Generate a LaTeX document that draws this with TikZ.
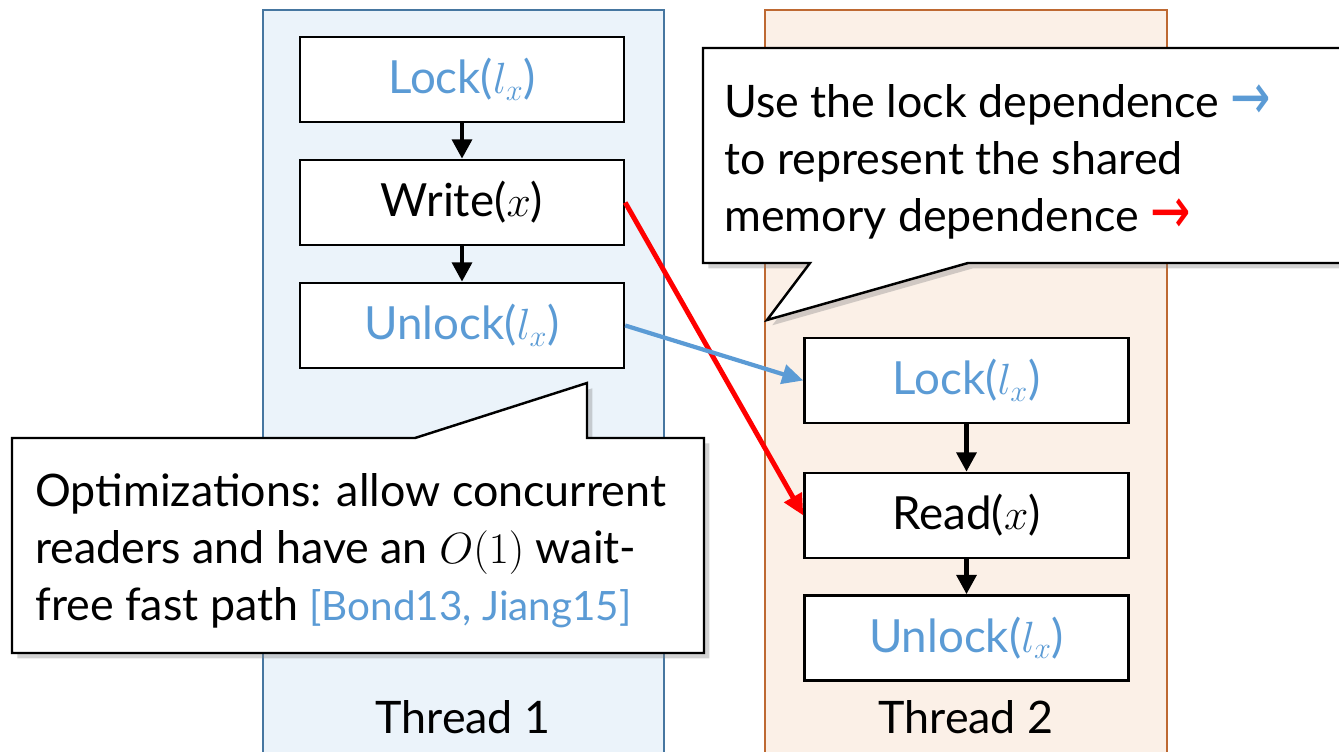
\documentclass[tikz,border=0pt]{standalone}
\usepackage[no-math]{fontspec}
\setmainfont{Lato}
\newfontfamily\arrowfont{DejaVu Sans}
\usetikzlibrary{arrows.meta}
\usetikzlibrary{shadows}
\definecolor{lockblue}{RGB}{91,155,213}
\definecolor{panelblue}{RGB}{235,243,250}
\definecolor{edgeblue}{RGB}{70,118,160}
\definecolor{panelorange}{RGB}{251,240,231}
\definecolor{edgeorange}{RGB}{190,105,50}
\newcommand{\deparrow}[1]{\textcolor{#1}{\raisebox{-1pt}{\scalebox{1.1}[1.5]{\arrowfont\fontsize{25}{30}\selectfont →}}}}

\begin{document}
\begin{tikzpicture}[x=0.02cm,y=-0.02cm,>={Triangle[length=11pt,width=11pt]},
	op/.style={draw,line width=1.4pt,fill=white,minimum width=6.48cm,minimum height=1.7cm,inner sep=0pt,font=\fontsize{26}{30}\selectfont},
	threadname/.style={inner sep=0pt,font=\fontsize{25.5}{30}\selectfont},
	notetext/.style={align=left,inner sep=0pt,font=\fontsize{25.5}{32.6}\selectfont},
	callout/.style={fill=white,draw=black,line width=1.4pt,drop shadow={shadow xshift=3pt,shadow yshift=-3pt,opacity=.35}}]
	\useasboundingbox (0,0) rectangle (1339,751);
	% the two threads
	\filldraw[fill=panelblue,draw=edgeblue,line width=1pt] (263,10) rectangle (664,770);
	\filldraw[fill=panelorange,draw=edgeorange,line width=1pt] (765,10) rectangle (1167,770);
	\node[threadname,anchor=base] (t1) at (463,733) {Thread 1};
	\node[threadname,anchor=base] (t2) at (966,733) {Thread 2};
	% operations
	\node[op] (l1) at (462,79.5) {\textcolor{lockblue}{Lock($l_x$)}};
	\node[op] (w1) at (462,202.5) {Write($x$)};
	\node[op] (u1) at (462,325.5) {\textcolor{lockblue}{Unlock($l_x$)}};
	\node[op] (l2) at (966.5,380.5) {\textcolor{lockblue}{Lock($l_x$)}};
	\node[op] (r2) at (966.5,515.5) {Read($x$)};
	\node[op] (u2) at (966.5,638) {\textcolor{lockblue}{Unlock($l_x$)}};
	\draw[->,line width=2.8pt] (l1) -- (w1);
	\draw[->,line width=2.8pt] (w1) -- (u1);
	\draw[->,line width=2.8pt] (l2) -- (r2);
	\draw[->,line width=2.8pt] (r2) -- (u2);
	\draw[-{Triangle[length=12pt,width=11pt]},line width=2.8pt,red] (w1.east) -- (r2.west);
	\draw[-{Triangle[length=12pt,width=11pt]},line width=2.4pt,lockblue] (u1.east) -- (l2.west);
	% callouts
	\coordinate (deptip) at (767,320);
	\filldraw[callout] (703,48) -- (1360,48) -- (1360,263) -- (968,263) -- (deptip) -- (810,263) -- (703,263) -- cycle;
	\node[notetext,anchor=north west] (deptext) at (724,84) {Use the lock dependence \deparrow{lockblue}\\to represent the shared\\memory dependence \deparrow{red}};
	\coordinate (opttip) at (587,383);
	\filldraw[callout] (12,438) -- (415,438) -- (opttip) -- (587,438) -- (704,438) -- (704,653) -- (12,653) -- cycle;
	\node[notetext,anchor=north west] (opttext) at (35,473) {Optimizations: allow concurrent\\readers and have an $O(1)$ wait-\\free fast path {\fontsize{23}{32.6}\selectfont\textcolor{lockblue}{[Bond13, Jiang15]}}};
\end{tikzpicture}
\end{document}
